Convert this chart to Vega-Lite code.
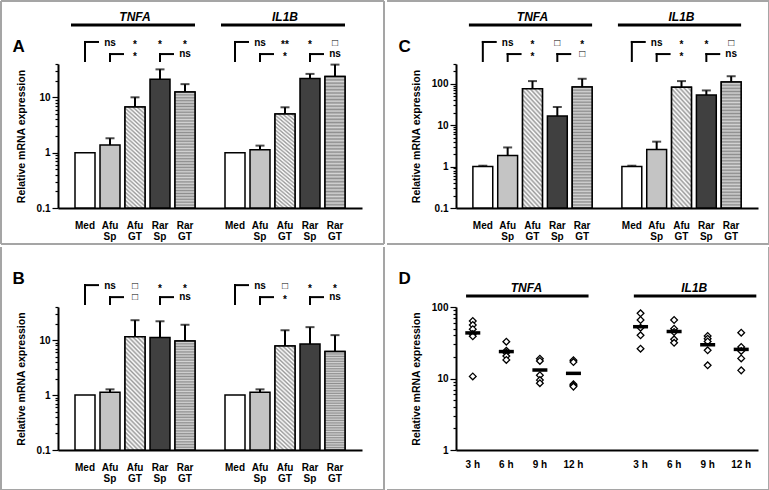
{
"$schema": "https://vega.github.io/schema/vega-lite/v6.json",
"background": "white",
"padding": 0,
"params": [
  {"name": "hatchFill", "value": {"gradient": "linear", "x1": 0, "y1": 1, "x2": 0.207, "y2": -0.15, "stops": [
      {"offset": 0, "color": "#9a9a9a"}, {"offset": 0.0167, "color": "#ffffff"},
      {"offset": 0.0333, "color": "#9a9a9a"}, {"offset": 0.05, "color": "#ffffff"},
      {"offset": 0.0667, "color": "#9a9a9a"}, {"offset": 0.0833, "color": "#ffffff"},
      {"offset": 0.1, "color": "#9a9a9a"}, {"offset": 0.1167, "color": "#ffffff"},
      {"offset": 0.1333, "color": "#9a9a9a"}, {"offset": 0.15, "color": "#ffffff"},
      {"offset": 0.1667, "color": "#9a9a9a"}, {"offset": 0.1833, "color": "#ffffff"},
      {"offset": 0.2, "color": "#9a9a9a"}, {"offset": 0.2167, "color": "#ffffff"},
      {"offset": 0.2333, "color": "#9a9a9a"}, {"offset": 0.25, "color": "#ffffff"},
      {"offset": 0.2667, "color": "#9a9a9a"}, {"offset": 0.2833, "color": "#ffffff"},
      {"offset": 0.3, "color": "#9a9a9a"}, {"offset": 0.3167, "color": "#ffffff"},
      {"offset": 0.3333, "color": "#9a9a9a"}, {"offset": 0.35, "color": "#ffffff"},
      {"offset": 0.3667, "color": "#9a9a9a"}, {"offset": 0.3833, "color": "#ffffff"},
      {"offset": 0.4, "color": "#9a9a9a"}, {"offset": 0.4167, "color": "#ffffff"},
      {"offset": 0.4333, "color": "#9a9a9a"}, {"offset": 0.45, "color": "#ffffff"},
      {"offset": 0.4667, "color": "#9a9a9a"}, {"offset": 0.4833, "color": "#ffffff"},
      {"offset": 0.5, "color": "#9a9a9a"}, {"offset": 0.5167, "color": "#ffffff"},
      {"offset": 0.5333, "color": "#9a9a9a"}, {"offset": 0.55, "color": "#ffffff"},
      {"offset": 0.5667, "color": "#9a9a9a"}, {"offset": 0.5833, "color": "#ffffff"},
      {"offset": 0.6, "color": "#9a9a9a"}, {"offset": 0.6167, "color": "#ffffff"},
      {"offset": 0.6333, "color": "#9a9a9a"}, {"offset": 0.65, "color": "#ffffff"},
      {"offset": 0.6667, "color": "#9a9a9a"}, {"offset": 0.6833, "color": "#ffffff"},
      {"offset": 0.7, "color": "#9a9a9a"}, {"offset": 0.7167, "color": "#ffffff"},
      {"offset": 0.7333, "color": "#9a9a9a"}, {"offset": 0.75, "color": "#ffffff"},
      {"offset": 0.7667, "color": "#9a9a9a"}, {"offset": 0.7833, "color": "#ffffff"},
      {"offset": 0.8, "color": "#9a9a9a"}, {"offset": 0.8167, "color": "#ffffff"},
      {"offset": 0.8333, "color": "#9a9a9a"}, {"offset": 0.85, "color": "#ffffff"},
      {"offset": 0.8667, "color": "#9a9a9a"}, {"offset": 0.8833, "color": "#ffffff"},
      {"offset": 0.9, "color": "#9a9a9a"}, {"offset": 0.9167, "color": "#ffffff"},
      {"offset": 0.9333, "color": "#9a9a9a"}, {"offset": 0.95, "color": "#ffffff"},
      {"offset": 0.9667, "color": "#9a9a9a"}, {"offset": 0.9833, "color": "#ffffff"},
      {"offset": 1, "color": "#9a9a9a"}]}},
  {"name": "stripeFill", "value": {"gradient": "linear", "x1": 0, "y1": 0, "x2": 0, "y2": 1, "stops": [
      {"offset": 0, "color": "#8e8e8e"}, {"offset": 0.0125, "color": "#d4d4d4"},
      {"offset": 0.025, "color": "#8e8e8e"}, {"offset": 0.0375, "color": "#d4d4d4"},
      {"offset": 0.05, "color": "#8e8e8e"}, {"offset": 0.0625, "color": "#d4d4d4"},
      {"offset": 0.075, "color": "#8e8e8e"}, {"offset": 0.0875, "color": "#d4d4d4"},
      {"offset": 0.1, "color": "#8e8e8e"}, {"offset": 0.1125, "color": "#d4d4d4"},
      {"offset": 0.125, "color": "#8e8e8e"}, {"offset": 0.1375, "color": "#d4d4d4"},
      {"offset": 0.15, "color": "#8e8e8e"}, {"offset": 0.1625, "color": "#d4d4d4"},
      {"offset": 0.175, "color": "#8e8e8e"}, {"offset": 0.1875, "color": "#d4d4d4"},
      {"offset": 0.2, "color": "#8e8e8e"}, {"offset": 0.2125, "color": "#d4d4d4"},
      {"offset": 0.225, "color": "#8e8e8e"}, {"offset": 0.2375, "color": "#d4d4d4"},
      {"offset": 0.25, "color": "#8e8e8e"}, {"offset": 0.2625, "color": "#d4d4d4"},
      {"offset": 0.275, "color": "#8e8e8e"}, {"offset": 0.2875, "color": "#d4d4d4"},
      {"offset": 0.3, "color": "#8e8e8e"}, {"offset": 0.3125, "color": "#d4d4d4"},
      {"offset": 0.325, "color": "#8e8e8e"}, {"offset": 0.3375, "color": "#d4d4d4"},
      {"offset": 0.35, "color": "#8e8e8e"}, {"offset": 0.3625, "color": "#d4d4d4"},
      {"offset": 0.375, "color": "#8e8e8e"}, {"offset": 0.3875, "color": "#d4d4d4"},
      {"offset": 0.4, "color": "#8e8e8e"}, {"offset": 0.4125, "color": "#d4d4d4"},
      {"offset": 0.425, "color": "#8e8e8e"}, {"offset": 0.4375, "color": "#d4d4d4"},
      {"offset": 0.45, "color": "#8e8e8e"}, {"offset": 0.4625, "color": "#d4d4d4"},
      {"offset": 0.475, "color": "#8e8e8e"}, {"offset": 0.4875, "color": "#d4d4d4"},
      {"offset": 0.5, "color": "#8e8e8e"}, {"offset": 0.5125, "color": "#d4d4d4"},
      {"offset": 0.525, "color": "#8e8e8e"}, {"offset": 0.5375, "color": "#d4d4d4"},
      {"offset": 0.55, "color": "#8e8e8e"}, {"offset": 0.5625, "color": "#d4d4d4"},
      {"offset": 0.575, "color": "#8e8e8e"}, {"offset": 0.5875, "color": "#d4d4d4"},
      {"offset": 0.6, "color": "#8e8e8e"}, {"offset": 0.6125, "color": "#d4d4d4"},
      {"offset": 0.625, "color": "#8e8e8e"}, {"offset": 0.6375, "color": "#d4d4d4"},
      {"offset": 0.65, "color": "#8e8e8e"}, {"offset": 0.6625, "color": "#d4d4d4"},
      {"offset": 0.675, "color": "#8e8e8e"}, {"offset": 0.6875, "color": "#d4d4d4"},
      {"offset": 0.7, "color": "#8e8e8e"}, {"offset": 0.7125, "color": "#d4d4d4"},
      {"offset": 0.725, "color": "#8e8e8e"}, {"offset": 0.7375, "color": "#d4d4d4"},
      {"offset": 0.75, "color": "#8e8e8e"}, {"offset": 0.7625, "color": "#d4d4d4"},
      {"offset": 0.775, "color": "#8e8e8e"}, {"offset": 0.7875, "color": "#d4d4d4"},
      {"offset": 0.8, "color": "#8e8e8e"}, {"offset": 0.8125, "color": "#d4d4d4"},
      {"offset": 0.825, "color": "#8e8e8e"}, {"offset": 0.8375, "color": "#d4d4d4"},
      {"offset": 0.85, "color": "#8e8e8e"}, {"offset": 0.8625, "color": "#d4d4d4"},
      {"offset": 0.875, "color": "#8e8e8e"}, {"offset": 0.8875, "color": "#d4d4d4"},
      {"offset": 0.9, "color": "#8e8e8e"}, {"offset": 0.9125, "color": "#d4d4d4"},
      {"offset": 0.925, "color": "#8e8e8e"}, {"offset": 0.9375, "color": "#d4d4d4"},
      {"offset": 0.95, "color": "#8e8e8e"}, {"offset": 0.9625, "color": "#d4d4d4"},
      {"offset": 0.975, "color": "#8e8e8e"}, {"offset": 0.9875, "color": "#d4d4d4"},
      {"offset": 1, "color": "#8e8e8e"}]}}
],
"config": {
  "font": "Liberation Sans",
  "view": {"stroke": null},
  "mark": {"color": "#000"},
  "axis": {"domainColor": "#000", "domainWidth": 2, "tickColor": "#000", "tickWidth": 1.2, "labelColor": "#000", "labelFont": "Liberation Sans", "labelFontSize": 10, "labelFontWeight": "bold", "titleColor": "#000", "titleFont": "Liberation Sans", "titleFontSize": 10.5, "titleFontWeight": "bold", "grid": false},
  "title": {"fontSize": 17, "fontWeight": "bold", "color": "#000", "font": "Liberation Sans"},
  "text": {"font": "Liberation Sans", "fontWeight": "bold", "fontSize": 10, "color": "#000"}
},
"datasets": {
  "barsA": [
    {"cond": "Med", "key": "TNFA|Med", "value": 1, "upper": null},
    {"cond": "Afu Sp", "key": "TNFA|Afu Sp", "value": 1.38, "upper": 1.82},
    {"cond": "Afu GT", "key": "TNFA|Afu GT", "value": 6.7, "upper": 10},
    {"cond": "Rar Sp", "key": "TNFA|Rar Sp", "value": 21.2, "upper": 32},
    {"cond": "Rar GT", "key": "TNFA|Rar GT", "value": 12.5, "upper": 17.3},
    {"cond": "Med", "key": "IL1B|Med", "value": 1, "upper": null},
    {"cond": "Afu Sp", "key": "IL1B|Afu Sp", "value": 1.13, "upper": 1.34},
    {"cond": "Afu GT", "key": "IL1B|Afu GT", "value": 5.0, "upper": 6.6},
    {"cond": "Rar Sp", "key": "IL1B|Rar Sp", "value": 21.8, "upper": 26.5},
    {"cond": "Rar GT", "key": "IL1B|Rar GT", "value": 23.7, "upper": 39}
  ],
  "barsB": [
    {"cond": "Med", "key": "TNFA|Med", "value": 1, "upper": null},
    {"cond": "Afu Sp", "key": "TNFA|Afu Sp", "value": 1.13, "upper": 1.27},
    {"cond": "Afu GT", "key": "TNFA|Afu GT", "value": 11.5, "upper": 23},
    {"cond": "Rar Sp", "key": "TNFA|Rar Sp", "value": 11.2, "upper": 22},
    {"cond": "Rar GT", "key": "TNFA|Rar GT", "value": 9.6, "upper": 19},
    {"cond": "Med", "key": "IL1B|Med", "value": 1, "upper": null},
    {"cond": "Afu Sp", "key": "IL1B|Afu Sp", "value": 1.13, "upper": 1.27},
    {"cond": "Afu GT", "key": "IL1B|Afu GT", "value": 7.8, "upper": 15.1},
    {"cond": "Rar Sp", "key": "IL1B|Rar Sp", "value": 8.5, "upper": 17.2},
    {"cond": "Rar GT", "key": "IL1B|Rar GT", "value": 6.2, "upper": 12.3}
  ],
  "barsC": [
    {"cond": "Med", "key": "TNFA|Med", "value": 1, "upper": 1.05},
    {"cond": "Afu Sp", "key": "TNFA|Afu Sp", "value": 1.84, "upper": 2.9},
    {"cond": "Afu GT", "key": "TNFA|Afu GT", "value": 76, "upper": 116},
    {"cond": "Rar Sp", "key": "TNFA|Rar Sp", "value": 16.7, "upper": 27.5},
    {"cond": "Rar GT", "key": "TNFA|Rar GT", "value": 83, "upper": 132},
    {"cond": "Med", "key": "IL1B|Med", "value": 1, "upper": 1.05},
    {"cond": "Afu Sp", "key": "IL1B|Afu Sp", "value": 2.6, "upper": 4.0},
    {"cond": "Afu GT", "key": "IL1B|Afu GT", "value": 82, "upper": 116},
    {"cond": "Rar Sp", "key": "IL1B|Rar Sp", "value": 53.5, "upper": 69},
    {"cond": "Rar GT", "key": "IL1B|Rar GT", "value": 110, "upper": 152}
  ],
  "textA": [
    {"key": "TNFA|Afu Sp", "tier": "r1", "label": "ns"},
    {"key": "TNFA|Afu GT", "tier": "r1", "label": "*"},
    {"key": "TNFA|Rar Sp", "tier": "r1", "label": "*"},
    {"key": "TNFA|Rar GT", "tier": "r1", "label": "*"},
    {"key": "TNFA|Afu GT", "tier": "r2", "label": "*"},
    {"key": "TNFA|Rar GT", "tier": "r2", "label": "ns"},
    {"key": "IL1B|Afu Sp", "tier": "r1", "label": "ns"},
    {"key": "IL1B|Afu GT", "tier": "r1", "label": "**"},
    {"key": "IL1B|Rar Sp", "tier": "r1", "label": "*"},
    {"key": "IL1B|Rar GT", "tier": "r1", "label": "□"},
    {"key": "IL1B|Afu GT", "tier": "r2", "label": "*"},
    {"key": "IL1B|Rar GT", "tier": "r2", "label": "ns"}
  ],
  "textB": [
    {"key": "TNFA|Afu Sp", "tier": "r1", "label": "ns"},
    {"key": "TNFA|Afu GT", "tier": "r1", "label": "□"},
    {"key": "TNFA|Rar Sp", "tier": "r1", "label": "*"},
    {"key": "TNFA|Rar GT", "tier": "r1", "label": "*"},
    {"key": "TNFA|Afu GT", "tier": "r2", "label": "□"},
    {"key": "TNFA|Rar GT", "tier": "r2", "label": "ns"},
    {"key": "IL1B|Afu Sp", "tier": "r1", "label": "ns"},
    {"key": "IL1B|Afu GT", "tier": "r1", "label": "□"},
    {"key": "IL1B|Rar Sp", "tier": "r1", "label": "*"},
    {"key": "IL1B|Rar GT", "tier": "r1", "label": "*"},
    {"key": "IL1B|Afu GT", "tier": "r2", "label": "*"},
    {"key": "IL1B|Rar GT", "tier": "r2", "label": "ns"}
  ],
  "textC": [
    {"key": "TNFA|Afu Sp", "tier": "r1", "label": "ns"},
    {"key": "TNFA|Afu GT", "tier": "r1", "label": "*"},
    {"key": "TNFA|Rar Sp", "tier": "r1", "label": "□"},
    {"key": "TNFA|Rar GT", "tier": "r1", "label": "*"},
    {"key": "TNFA|Afu GT", "tier": "r2", "label": "*"},
    {"key": "TNFA|Rar GT", "tier": "r2", "label": "□"},
    {"key": "IL1B|Afu Sp", "tier": "r1", "label": "ns"},
    {"key": "IL1B|Afu GT", "tier": "r1", "label": "*"},
    {"key": "IL1B|Rar Sp", "tier": "r1", "label": "*"},
    {"key": "IL1B|Rar GT", "tier": "r1", "label": "□"},
    {"key": "IL1B|Afu GT", "tier": "r2", "label": "*"},
    {"key": "IL1B|Rar GT", "tier": "r2", "label": "ns"}
  ],
  "brackets": [
    {"key": "TNFA|Med", "tier": "r1"},
    {"key": "TNFA|Afu Sp", "tier": "r2"},
    {"key": "TNFA|Rar Sp", "tier": "r2"},
    {"key": "IL1B|Med", "tier": "r1"},
    {"key": "IL1B|Afu Sp", "tier": "r2"},
    {"key": "IL1B|Rar Sp", "tier": "r2"}
  ],
  "headers": [
    {"label": "TNFA", "key": "TNFA|Med", "to": "TNFA|Rar GT", "mid": "TNFA|Afu GT"},
    {"label": "IL1B", "key": "IL1B|Med", "to": "IL1B|Rar GT", "mid": "IL1B|Afu GT"}
  ],
  "headersD": [
    {"label": "TNFA", "key": "TNFA|3 h", "to": "TNFA|12 h", "mid": "TNFA|6 h"},
    {"label": "IL1B", "key": "IL1B|3 h", "to": "IL1B|12 h", "mid": "IL1B|6 h"}
  ],
  "frameBar": [{"first": "TNFA|Med", "last": "IL1B|Rar GT"}],
  "frameD": [{"first": "TNFA|3 h", "last": "IL1B|12 h"}],
  "dotsD": [
    {"key": "TNFA|3 h", "value": 63.7}, {"key": "TNFA|3 h", "value": 56}, {"key": "TNFA|3 h", "value": 49}, {"key": "TNFA|3 h", "value": 42}, {"key": "TNFA|3 h", "value": 39}, {"key": "TNFA|3 h", "value": 10.7},
    {"key": "TNFA|6 h", "value": 32.7}, {"key": "TNFA|6 h", "value": 24.5}, {"key": "TNFA|6 h", "value": 23}, {"key": "TNFA|6 h", "value": 20.6}, {"key": "TNFA|6 h", "value": 18.2},
    {"key": "TNFA|9 h", "value": 18.9}, {"key": "TNFA|9 h", "value": 17.6}, {"key": "TNFA|9 h", "value": 11.1}, {"key": "TNFA|9 h", "value": 9.5}, {"key": "TNFA|9 h", "value": 8.6},
    {"key": "TNFA|12 h", "value": 18}, {"key": "TNFA|12 h", "value": 17}, {"key": "TNFA|12 h", "value": 8.3}, {"key": "TNFA|12 h", "value": 8}, {"key": "TNFA|12 h", "value": 7.7},
    {"key": "IL1B|3 h", "value": 81.6}, {"key": "IL1B|3 h", "value": 65.8}, {"key": "IL1B|3 h", "value": 51.3}, {"key": "IL1B|3 h", "value": 40.2}, {"key": "IL1B|3 h", "value": 26.1},
    {"key": "IL1B|6 h", "value": 65.8}, {"key": "IL1B|6 h", "value": 49.7}, {"key": "IL1B|6 h", "value": 44.7}, {"key": "IL1B|6 h", "value": 35.3}, {"key": "IL1B|6 h", "value": 31.6},
    {"key": "IL1B|9 h", "value": 39.3}, {"key": "IL1B|9 h", "value": 36}, {"key": "IL1B|9 h", "value": 33}, {"key": "IL1B|9 h", "value": 24.8}, {"key": "IL1B|9 h", "value": 15.3},
    {"key": "IL1B|12 h", "value": 43.7}, {"key": "IL1B|12 h", "value": 27.6}, {"key": "IL1B|12 h", "value": 24.3}, {"key": "IL1B|12 h", "value": 19.1}, {"key": "IL1B|12 h", "value": 13}
  ]
},
"columns": 2,
"spacing": {"row": 0, "column": 0},
"concat": [
{
 "width": 304, "height": 144,
 "title": {"text": "A", "orient": "left", "anchor": "end", "frame": "group", "angle": 0, "align": "right", "baseline": "middle", "offset": -37, "dy": -17},
 "resolve": {"scale": {"y": "independent"}},
 "layer": [
  {"data": {"name": "barsA"}, "layer": [
    {"mark": {"type": "bar", "stroke": "#000", "strokeWidth": 1.5},
     "encoding": {
      "x": {"field": "key", "type": "nominal", "title": null, "scale": {"domain": ["TNFA|Med","TNFA|Afu Sp","TNFA|Afu GT","TNFA|Rar Sp","TNFA|Rar GT","gap","IL1B|Med","IL1B|Afu Sp","IL1B|Afu GT","IL1B|Rar Sp","IL1B|Rar GT"], "paddingInner": 0.2, "paddingOuter": 0.68}, "axis": {"title": null, "labelExpr": "datum.value == 'gap' ? '' : split(split(datum.value, '|')[1], ' ')", "ticks": false, "tickSize": 0, "labelAngle": 0, "labelPadding": 12, "labelLineHeight": 11, "labelBaseline": "top"}},
      "y": {"field": "value", "type": "quantitative", "scale": {"type": "log", "domain": [0.1, 40], "nice": false}, "axis": {"title": "Relative mRNA expression", "values": [0.1,0.2,0.3,0.4,0.5,0.6,0.7,0.8,0.9,1,2,3,4,5,6,7,8,9,10,20,30,40], "labelExpr": "indexof([0.1,1,10,100,1000], datum.value) >= 0 ? datum.value + '' : ''", "tickSize": {"condition": {"test": "indexof([0.1,1,10,100,1000], datum.value) >= 0", "value": 6}, "value": 3}, "labelPadding": 2, "titlePadding": 10}},
      "y2": {"datum": 0.1},
      "fill": {"field": "cond", "type": "nominal", "scale": {"domain": ["Med","Afu Sp","Afu GT","Rar Sp","Rar GT"], "range": ["#ffffff","#c4c4c4","#d8d8d8","#404040","#b0b0b0"]}, "legend": null}}},
    {"transform": [{"filter": "datum.cond == 'Afu GT'"}], "mark": {"type": "bar", "fill": {"expr": "hatchFill"}, "stroke": "#000", "strokeWidth": 1.5},
     "encoding": {"x": {"field": "key", "type": "nominal", "title": null}, "y": {"field": "value", "type": "quantitative"}, "y2": {"datum": 0.1}}},
    {"transform": [{"filter": "datum.cond == 'Rar GT'"}], "mark": {"type": "bar", "fill": {"expr": "stripeFill"}, "stroke": "#000", "strokeWidth": 1.5},
     "encoding": {"x": {"field": "key", "type": "nominal", "title": null}, "y": {"field": "value", "type": "quantitative"}, "y2": {"datum": 0.1}}},
    {"transform": [{"filter": "isValid(datum.upper)"}], "mark": {"type": "rule", "strokeWidth": 2, "color": "#000"},
     "encoding": {"x": {"field": "key", "type": "nominal", "title": null}, "y": {"field": "value", "type": "quantitative"}, "y2": {"field": "upper"}}},
    {"transform": [{"filter": "isValid(datum.upper)"}], "mark": {"type": "tick", "thickness": 2, "size": 9, "color": "#000"},
     "encoding": {"x": {"field": "key", "type": "nominal", "title": null}, "y": {"field": "upper", "type": "quantitative"}}}
  ]},
  {"layer": [
    {"data": {"name": "frameBar"}, "mark": {"type": "rule", "strokeWidth": 2, "color": "#a5a5a5"},
     "encoding": {"x": {"field": "first", "type": "nominal", "bandPosition": -3.7, "title": null}, "x2": {"field": "last", "bandPosition": 2.95}, "y": {"datum": 143.75, "type": "quantitative", "scale": {"domain": [0, 100]}, "axis": null}}},
    {"data": {"name": "frameBar"}, "mark": {"type": "rule", "strokeWidth": 2, "color": "#a5a5a5"},
     "encoding": {"x": {"field": "first", "type": "nominal", "bandPosition": -3.7, "title": null}, "x2": {"field": "last", "bandPosition": 2.95}, "y": {"datum": -25, "type": "quantitative", "scale": {"domain": [0, 100]}, "axis": null}}},
    {"data": {"name": "frameBar"}, "mark": {"type": "rule", "strokeWidth": 2, "color": "#a5a5a5"},
     "encoding": {"x": {"field": "first", "type": "nominal", "bandPosition": -3.7, "title": null}, "y": {"datum": 143.75, "type": "quantitative", "scale": {"domain": [0, 100]}, "axis": null}, "y2": {"datum": -25}}},
    {"data": {"name": "frameBar"}, "mark": {"type": "rule", "strokeWidth": 2, "color": "#a5a5a5"},
     "encoding": {"x": {"field": "last", "type": "nominal", "bandPosition": 2.95, "title": null}, "y": {"datum": 143.75, "type": "quantitative", "scale": {"domain": [0, 100]}, "axis": null}, "y2": {"datum": -25}}},
    {"data": {"name": "headers"}, "mark": {"type": "rule", "strokeWidth": 3, "color": "#000"},
     "encoding": {"x": {"field": "key", "type": "nominal", "bandPosition": -0.2, "title": null}, "x2": {"field": "to", "bandPosition": 1}, "y": {"datum": 127.1, "type": "quantitative", "scale": {"domain": [0, 100]}, "axis": null}}},
    {"data": {"name": "headers"}, "mark": {"type": "text", "fontSize": 12, "fontStyle": "italic", "baseline": "middle", "color": "#000"},
     "encoding": {"x": {"field": "mid", "type": "nominal", "title": null}, "y": {"datum": 132.6, "type": "quantitative", "scale": {"domain": [0, 100]}, "axis": null}, "text": {"field": "label"}}},
    {"data": {"name": "brackets"}, "transform": [{"filter": "datum.tier == 'r1'"}], "mark": {"type": "rule", "strokeWidth": 2, "color": "#000", "strokeCap": "square"},
     "encoding": {"x": {"field": "key", "type": "nominal", "title": null}, "y": {"datum": 115.3, "type": "quantitative", "scale": {"domain": [0, 100]}, "axis": null}, "y2": {"datum": 102.1}}},
    {"data": {"name": "brackets"}, "transform": [{"filter": "datum.tier == 'r1'"}], "mark": {"type": "rule", "strokeWidth": 2, "color": "#000", "strokeCap": "square"},
     "encoding": {"x": {"field": "key", "type": "nominal", "bandPosition": 0.5, "title": null}, "x2": {"field": "key", "bandPosition": 1.15}, "y": {"datum": 115.3, "type": "quantitative", "scale": {"domain": [0, 100]}, "axis": null}}},
    {"data": {"name": "brackets"}, "transform": [{"filter": "datum.tier == 'r2'"}], "mark": {"type": "rule", "strokeWidth": 2, "color": "#000", "strokeCap": "square"},
     "encoding": {"x": {"field": "key", "type": "nominal", "title": null}, "y": {"datum": 106.9, "type": "quantitative", "scale": {"domain": [0, 100]}, "axis": null}, "y2": {"datum": 102.1}}},
    {"data": {"name": "brackets"}, "transform": [{"filter": "datum.tier == 'r2'"}], "mark": {"type": "rule", "strokeWidth": 2, "color": "#000", "strokeCap": "square"},
     "encoding": {"x": {"field": "key", "type": "nominal", "bandPosition": 0.5, "title": null}, "x2": {"field": "key", "bandPosition": 1.15}, "y": {"datum": 106.9, "type": "quantitative", "scale": {"domain": [0, 100]}, "axis": null}}},
    {"data": {"name": "textA"}, "transform": [{"filter": "datum.tier == 'r1' && indexof(datum.label, '*') < 0"}], "mark": {"type": "text", "baseline": "middle", "color": "#000"},
     "encoding": {"x": {"field": "key", "type": "nominal", "title": null}, "y": {"datum": 114.6, "type": "quantitative", "scale": {"domain": [0, 100]}, "axis": null}, "text": {"field": "label"}}},
    {"data": {"name": "textA"}, "transform": [{"filter": "datum.tier == 'r1' && indexof(datum.label, '*') >= 0"}], "mark": {"type": "text", "baseline": "middle", "dy": 2.5, "color": "#000"},
     "encoding": {"x": {"field": "key", "type": "nominal", "title": null}, "y": {"datum": 114.6, "type": "quantitative", "scale": {"domain": [0, 100]}, "axis": null}, "text": {"field": "label"}}},
    {"data": {"name": "textA"}, "transform": [{"filter": "datum.tier == 'r2' && indexof(datum.label, '*') < 0"}], "mark": {"type": "text", "baseline": "middle", "color": "#000"},
     "encoding": {"x": {"field": "key", "type": "nominal", "title": null}, "y": {"datum": 106.9, "type": "quantitative", "scale": {"domain": [0, 100]}, "axis": null}, "text": {"field": "label"}}},
    {"data": {"name": "textA"}, "transform": [{"filter": "datum.tier == 'r2' && indexof(datum.label, '*') >= 0"}], "mark": {"type": "text", "baseline": "middle", "dy": 2.5, "color": "#000"},
     "encoding": {"x": {"field": "key", "type": "nominal", "title": null}, "y": {"datum": 106.9, "type": "quantitative", "scale": {"domain": [0, 100]}, "axis": null}, "text": {"field": "label"}}}
  ]}
 ]
},
{
 "width": 302, "height": 144,
 "title": {"text": "C", "orient": "left", "anchor": "end", "frame": "group", "angle": 0, "align": "right", "baseline": "middle", "offset": -37, "dy": -17},
 "resolve": {"scale": {"y": "independent"}},
 "layer": [
  {"data": {"name": "barsC"}, "layer": [
    {"mark": {"type": "bar", "stroke": "#000", "strokeWidth": 1.5},
     "encoding": {
      "x": {"field": "key", "type": "nominal", "title": null, "scale": {"domain": ["TNFA|Med","TNFA|Afu Sp","TNFA|Afu GT","TNFA|Rar Sp","TNFA|Rar GT","gap","IL1B|Med","IL1B|Afu Sp","IL1B|Afu GT","IL1B|Rar Sp","IL1B|Rar GT"], "paddingInner": 0.2, "paddingOuter": 0.68}, "axis": {"title": null, "labelExpr": "datum.value == 'gap' ? '' : split(split(datum.value, '|')[1], ' ')", "ticks": false, "tickSize": 0, "labelAngle": 0, "labelPadding": 12, "labelLineHeight": 11, "labelBaseline": "top"}},
      "y": {"field": "value", "type": "quantitative", "scale": {"type": "log", "domain": [0.1, 300], "nice": false}, "axis": {"title": "Relative mRNA expression", "values": [0.1,0.2,0.3,0.4,0.5,0.6,0.7,0.8,0.9,1,2,3,4,5,6,7,8,9,10,20,30,40,50,60,70,80,90,100,200,300], "labelExpr": "indexof([0.1,1,10,100,1000], datum.value) >= 0 ? datum.value + '' : ''", "tickSize": {"condition": {"test": "indexof([0.1,1,10,100,1000], datum.value) >= 0", "value": 6}, "value": 3}, "labelPadding": 2, "titlePadding": 10}},
      "y2": {"datum": 0.1},
      "fill": {"field": "cond", "type": "nominal", "scale": {"domain": ["Med","Afu Sp","Afu GT","Rar Sp","Rar GT"], "range": ["#ffffff","#c4c4c4","#d8d8d8","#404040","#b0b0b0"]}, "legend": null}}},
    {"transform": [{"filter": "datum.cond == 'Afu GT'"}], "mark": {"type": "bar", "fill": {"expr": "hatchFill"}, "stroke": "#000", "strokeWidth": 1.5},
     "encoding": {"x": {"field": "key", "type": "nominal", "title": null}, "y": {"field": "value", "type": "quantitative"}, "y2": {"datum": 0.1}}},
    {"transform": [{"filter": "datum.cond == 'Rar GT'"}], "mark": {"type": "bar", "fill": {"expr": "stripeFill"}, "stroke": "#000", "strokeWidth": 1.5},
     "encoding": {"x": {"field": "key", "type": "nominal", "title": null}, "y": {"field": "value", "type": "quantitative"}, "y2": {"datum": 0.1}}},
    {"transform": [{"filter": "isValid(datum.upper)"}], "mark": {"type": "rule", "strokeWidth": 2, "color": "#000"},
     "encoding": {"x": {"field": "key", "type": "nominal", "title": null}, "y": {"field": "value", "type": "quantitative"}, "y2": {"field": "upper"}}},
    {"transform": [{"filter": "isValid(datum.upper)"}], "mark": {"type": "tick", "thickness": 2, "size": 9, "color": "#000"},
     "encoding": {"x": {"field": "key", "type": "nominal", "title": null}, "y": {"field": "upper", "type": "quantitative"}}}
  ]},
  {"layer": [
    {"data": {"name": "frameBar"}, "mark": {"type": "rule", "strokeWidth": 2, "color": "#a5a5a5"},
     "encoding": {"x": {"field": "first", "type": "nominal", "bandPosition": -4.323, "title": null}, "x2": {"field": "last", "bandPosition": 2.403}, "y": {"datum": 143.75, "type": "quantitative", "scale": {"domain": [0, 100]}, "axis": null}}},
    {"data": {"name": "frameBar"}, "mark": {"type": "rule", "strokeWidth": 2, "color": "#a5a5a5"},
     "encoding": {"x": {"field": "first", "type": "nominal", "bandPosition": -4.323, "title": null}, "x2": {"field": "last", "bandPosition": 2.403}, "y": {"datum": -25, "type": "quantitative", "scale": {"domain": [0, 100]}, "axis": null}}},
    {"data": {"name": "frameBar"}, "mark": {"type": "rule", "strokeWidth": 2, "color": "#a5a5a5"},
     "encoding": {"x": {"field": "last", "type": "nominal", "bandPosition": 2.403, "title": null}, "y": {"datum": 143.75, "type": "quantitative", "scale": {"domain": [0, 100]}, "axis": null}, "y2": {"datum": -25}}},
    {"data": {"name": "headers"}, "mark": {"type": "rule", "strokeWidth": 3, "color": "#000"},
     "encoding": {"x": {"field": "key", "type": "nominal", "bandPosition": -0.2, "title": null}, "x2": {"field": "to", "bandPosition": 1}, "y": {"datum": 127.1, "type": "quantitative", "scale": {"domain": [0, 100]}, "axis": null}}},
    {"data": {"name": "headers"}, "mark": {"type": "text", "fontSize": 12, "fontStyle": "italic", "baseline": "middle", "color": "#000"},
     "encoding": {"x": {"field": "mid", "type": "nominal", "title": null}, "y": {"datum": 132.6, "type": "quantitative", "scale": {"domain": [0, 100]}, "axis": null}, "text": {"field": "label"}}},
    {"data": {"name": "brackets"}, "transform": [{"filter": "datum.tier == 'r1'"}], "mark": {"type": "rule", "strokeWidth": 2, "color": "#000", "strokeCap": "square"},
     "encoding": {"x": {"field": "key", "type": "nominal", "title": null}, "y": {"datum": 115.3, "type": "quantitative", "scale": {"domain": [0, 100]}, "axis": null}, "y2": {"datum": 102.1}}},
    {"data": {"name": "brackets"}, "transform": [{"filter": "datum.tier == 'r1'"}], "mark": {"type": "rule", "strokeWidth": 2, "color": "#000", "strokeCap": "square"},
     "encoding": {"x": {"field": "key", "type": "nominal", "bandPosition": 0.5, "title": null}, "x2": {"field": "key", "bandPosition": 1.15}, "y": {"datum": 115.3, "type": "quantitative", "scale": {"domain": [0, 100]}, "axis": null}}},
    {"data": {"name": "brackets"}, "transform": [{"filter": "datum.tier == 'r2'"}], "mark": {"type": "rule", "strokeWidth": 2, "color": "#000", "strokeCap": "square"},
     "encoding": {"x": {"field": "key", "type": "nominal", "title": null}, "y": {"datum": 106.9, "type": "quantitative", "scale": {"domain": [0, 100]}, "axis": null}, "y2": {"datum": 102.1}}},
    {"data": {"name": "brackets"}, "transform": [{"filter": "datum.tier == 'r2'"}], "mark": {"type": "rule", "strokeWidth": 2, "color": "#000", "strokeCap": "square"},
     "encoding": {"x": {"field": "key", "type": "nominal", "bandPosition": 0.5, "title": null}, "x2": {"field": "key", "bandPosition": 1.15}, "y": {"datum": 106.9, "type": "quantitative", "scale": {"domain": [0, 100]}, "axis": null}}},
    {"data": {"name": "textC"}, "transform": [{"filter": "datum.tier == 'r1' && indexof(datum.label, '*') < 0"}], "mark": {"type": "text", "baseline": "middle", "color": "#000"},
     "encoding": {"x": {"field": "key", "type": "nominal", "title": null}, "y": {"datum": 114.6, "type": "quantitative", "scale": {"domain": [0, 100]}, "axis": null}, "text": {"field": "label"}}},
    {"data": {"name": "textC"}, "transform": [{"filter": "datum.tier == 'r1' && indexof(datum.label, '*') >= 0"}], "mark": {"type": "text", "baseline": "middle", "dy": 2.5, "color": "#000"},
     "encoding": {"x": {"field": "key", "type": "nominal", "title": null}, "y": {"datum": 114.6, "type": "quantitative", "scale": {"domain": [0, 100]}, "axis": null}, "text": {"field": "label"}}},
    {"data": {"name": "textC"}, "transform": [{"filter": "datum.tier == 'r2' && indexof(datum.label, '*') < 0"}], "mark": {"type": "text", "baseline": "middle", "color": "#000"},
     "encoding": {"x": {"field": "key", "type": "nominal", "title": null}, "y": {"datum": 106.9, "type": "quantitative", "scale": {"domain": [0, 100]}, "axis": null}, "text": {"field": "label"}}},
    {"data": {"name": "textC"}, "transform": [{"filter": "datum.tier == 'r2' && indexof(datum.label, '*') >= 0"}], "mark": {"type": "text", "baseline": "middle", "dy": 2.5, "color": "#000"},
     "encoding": {"x": {"field": "key", "type": "nominal", "title": null}, "y": {"datum": 106.9, "type": "quantitative", "scale": {"domain": [0, 100]}, "axis": null}, "text": {"field": "label"}}}
  ]}
 ]
},
{
 "width": 304, "height": 143,
 "title": {"text": "B", "orient": "left", "anchor": "end", "frame": "group", "angle": 0, "align": "right", "baseline": "middle", "offset": -37, "dy": -28},
 "resolve": {"scale": {"y": "independent"}},
 "layer": [
  {"data": {"name": "barsB"}, "layer": [
    {"mark": {"type": "bar", "stroke": "#000", "strokeWidth": 1.5},
     "encoding": {
      "x": {"field": "key", "type": "nominal", "title": null, "scale": {"domain": ["TNFA|Med","TNFA|Afu Sp","TNFA|Afu GT","TNFA|Rar Sp","TNFA|Rar GT","gap","IL1B|Med","IL1B|Afu Sp","IL1B|Afu GT","IL1B|Rar Sp","IL1B|Rar GT"], "paddingInner": 0.2, "paddingOuter": 0.68}, "axis": {"title": null, "labelExpr": "datum.value == 'gap' ? '' : split(split(datum.value, '|')[1], ' ')", "ticks": false, "tickSize": 0, "labelAngle": 0, "labelPadding": 12, "labelLineHeight": 11, "labelBaseline": "top"}},
      "y": {"field": "value", "type": "quantitative", "scale": {"type": "log", "domain": [0.1, 40], "nice": false}, "axis": {"title": "Relative mRNA expression", "values": [0.1,0.2,0.3,0.4,0.5,0.6,0.7,0.8,0.9,1,2,3,4,5,6,7,8,9,10,20,30,40], "labelExpr": "indexof([0.1,1,10,100,1000], datum.value) >= 0 ? datum.value + '' : ''", "tickSize": {"condition": {"test": "indexof([0.1,1,10,100,1000], datum.value) >= 0", "value": 6}, "value": 3}, "labelPadding": 2, "titlePadding": 10}},
      "y2": {"datum": 0.1},
      "fill": {"field": "cond", "type": "nominal", "scale": {"domain": ["Med","Afu Sp","Afu GT","Rar Sp","Rar GT"], "range": ["#ffffff","#c4c4c4","#d8d8d8","#404040","#b0b0b0"]}, "legend": null}}},
    {"transform": [{"filter": "datum.cond == 'Afu GT'"}], "mark": {"type": "bar", "fill": {"expr": "hatchFill"}, "stroke": "#000", "strokeWidth": 1.5},
     "encoding": {"x": {"field": "key", "type": "nominal", "title": null}, "y": {"field": "value", "type": "quantitative"}, "y2": {"datum": 0.1}}},
    {"transform": [{"filter": "datum.cond == 'Rar GT'"}], "mark": {"type": "bar", "fill": {"expr": "stripeFill"}, "stroke": "#000", "strokeWidth": 1.5},
     "encoding": {"x": {"field": "key", "type": "nominal", "title": null}, "y": {"field": "value", "type": "quantitative"}, "y2": {"datum": 0.1}}},
    {"transform": [{"filter": "isValid(datum.upper)"}], "mark": {"type": "rule", "strokeWidth": 2, "color": "#000"},
     "encoding": {"x": {"field": "key", "type": "nominal", "title": null}, "y": {"field": "value", "type": "quantitative"}, "y2": {"field": "upper"}}},
    {"transform": [{"filter": "isValid(datum.upper)"}], "mark": {"type": "tick", "thickness": 2, "size": 9, "color": "#000"},
     "encoding": {"x": {"field": "key", "type": "nominal", "title": null}, "y": {"field": "upper", "type": "quantitative"}}}
  ]},
  {"layer": [
    {"data": {"name": "frameBar"}, "mark": {"type": "rule", "strokeWidth": 2, "color": "#a5a5a5"},
     "encoding": {"x": {"field": "first", "type": "nominal", "bandPosition": -3.7, "title": null}, "x2": {"field": "last", "bandPosition": 2.95}, "y": {"datum": -27.97, "type": "quantitative", "scale": {"domain": [0, 100]}, "axis": null}}},
    {"data": {"name": "frameBar"}, "mark": {"type": "rule", "strokeWidth": 2, "color": "#a5a5a5"},
     "encoding": {"x": {"field": "first", "type": "nominal", "bandPosition": -3.7, "title": null}, "y": {"datum": 141.96, "type": "quantitative", "scale": {"domain": [0, 100]}, "axis": null}, "y2": {"datum": -27.97}}},
    {"data": {"name": "frameBar"}, "mark": {"type": "rule", "strokeWidth": 2, "color": "#a5a5a5"},
     "encoding": {"x": {"field": "last", "type": "nominal", "bandPosition": 2.95, "title": null}, "y": {"datum": 141.96, "type": "quantitative", "scale": {"domain": [0, 100]}, "axis": null}, "y2": {"datum": -27.97}}},
    {"data": {"name": "brackets"}, "transform": [{"filter": "datum.tier == 'r1'"}], "mark": {"type": "rule", "strokeWidth": 2, "color": "#000", "strokeCap": "square"},
     "encoding": {"x": {"field": "key", "type": "nominal", "title": null}, "y": {"datum": 115.3, "type": "quantitative", "scale": {"domain": [0, 100]}, "axis": null}, "y2": {"datum": 102.1}}},
    {"data": {"name": "brackets"}, "transform": [{"filter": "datum.tier == 'r1'"}], "mark": {"type": "rule", "strokeWidth": 2, "color": "#000", "strokeCap": "square"},
     "encoding": {"x": {"field": "key", "type": "nominal", "bandPosition": 0.5, "title": null}, "x2": {"field": "key", "bandPosition": 1.15}, "y": {"datum": 115.3, "type": "quantitative", "scale": {"domain": [0, 100]}, "axis": null}}},
    {"data": {"name": "brackets"}, "transform": [{"filter": "datum.tier == 'r2'"}], "mark": {"type": "rule", "strokeWidth": 2, "color": "#000", "strokeCap": "square"},
     "encoding": {"x": {"field": "key", "type": "nominal", "title": null}, "y": {"datum": 106.9, "type": "quantitative", "scale": {"domain": [0, 100]}, "axis": null}, "y2": {"datum": 102.1}}},
    {"data": {"name": "brackets"}, "transform": [{"filter": "datum.tier == 'r2'"}], "mark": {"type": "rule", "strokeWidth": 2, "color": "#000", "strokeCap": "square"},
     "encoding": {"x": {"field": "key", "type": "nominal", "bandPosition": 0.5, "title": null}, "x2": {"field": "key", "bandPosition": 1.15}, "y": {"datum": 106.9, "type": "quantitative", "scale": {"domain": [0, 100]}, "axis": null}}},
    {"data": {"name": "textB"}, "transform": [{"filter": "datum.tier == 'r1' && indexof(datum.label, '*') < 0"}], "mark": {"type": "text", "baseline": "middle", "color": "#000"},
     "encoding": {"x": {"field": "key", "type": "nominal", "title": null}, "y": {"datum": 114.6, "type": "quantitative", "scale": {"domain": [0, 100]}, "axis": null}, "text": {"field": "label"}}},
    {"data": {"name": "textB"}, "transform": [{"filter": "datum.tier == 'r1' && indexof(datum.label, '*') >= 0"}], "mark": {"type": "text", "baseline": "middle", "dy": 2.5, "color": "#000"},
     "encoding": {"x": {"field": "key", "type": "nominal", "title": null}, "y": {"datum": 114.6, "type": "quantitative", "scale": {"domain": [0, 100]}, "axis": null}, "text": {"field": "label"}}},
    {"data": {"name": "textB"}, "transform": [{"filter": "datum.tier == 'r2' && indexof(datum.label, '*') < 0"}], "mark": {"type": "text", "baseline": "middle", "color": "#000"},
     "encoding": {"x": {"field": "key", "type": "nominal", "title": null}, "y": {"datum": 106.9, "type": "quantitative", "scale": {"domain": [0, 100]}, "axis": null}, "text": {"field": "label"}}},
    {"data": {"name": "textB"}, "transform": [{"filter": "datum.tier == 'r2' && indexof(datum.label, '*') >= 0"}], "mark": {"type": "text", "baseline": "middle", "dy": 2.5, "color": "#000"},
     "encoding": {"x": {"field": "key", "type": "nominal", "title": null}, "y": {"datum": 106.9, "type": "quantitative", "scale": {"domain": [0, 100]}, "axis": null}, "text": {"field": "label"}}}
  ]}
 ]
},
{
 "width": 302, "height": 143,
 "title": {"text": "D", "orient": "left", "anchor": "end", "frame": "group", "angle": 0, "align": "right", "baseline": "middle", "offset": -37, "dy": -28},
 "resolve": {"scale": {"y": "independent"}},
 "layer": [
  {"data": {"name": "dotsD"}, "layer": [
    {"mark": {"type": "point", "shape": "diamond", "filled": true, "fill": "#ffffff", "stroke": "#000", "strokeWidth": 1.3, "size": 45, "opacity": 1},
     "encoding": {
      "x": {"field": "key", "type": "nominal", "title": null, "scale": {"domain": ["TNFA|3 h","TNFA|6 h","TNFA|9 h","TNFA|12 h","gap","IL1B|3 h","IL1B|6 h","IL1B|9 h","IL1B|12 h"], "paddingInner": 0, "paddingOuter": 0}, "axis": {"title": null, "labelExpr": "datum.value == 'gap' ? '' : split(datum.value, '|')[1]", "ticks": false, "tickSize": 0, "labelAngle": 0, "labelPadding": 9, "labelBaseline": "top"}},
      "y": {"field": "value", "type": "quantitative", "scale": {"type": "log", "domain": [1, 100], "nice": false}, "axis": {"title": "Relative mRNA expression", "values": [1,2,3,4,5,6,7,8,9,10,20,30,40,50,60,70,80,90,100], "labelExpr": "indexof([0.1,1,10,100,1000], datum.value) >= 0 ? datum.value + '' : ''", "tickSize": {"condition": {"test": "indexof([0.1,1,10,100,1000], datum.value) >= 0", "value": 6}, "value": 3}, "labelPadding": 2, "titlePadding": 10}}}},
    {"mark": {"type": "tick", "thickness": 3.5, "size": 15, "color": "#000"},
     "encoding": {"x": {"field": "key", "type": "nominal", "title": null}, "y": {"aggregate": "mean", "field": "value", "type": "quantitative"}}}
  ]},
  {"layer": [
    {"data": {"name": "frameD"}, "mark": {"type": "rule", "strokeWidth": 2, "color": "#a5a5a5"},
     "encoding": {"x": {"field": "first", "type": "nominal", "bandPosition": -2.056, "title": null}, "x2": {"field": "last", "bandPosition": 1.329}, "y": {"datum": -27.97, "type": "quantitative", "scale": {"domain": [0, 100]}, "axis": null}}},
    {"data": {"name": "frameD"}, "mark": {"type": "rule", "strokeWidth": 2, "color": "#a5a5a5"},
     "encoding": {"x": {"field": "last", "type": "nominal", "bandPosition": 1.329, "title": null}, "y": {"datum": 141.96, "type": "quantitative", "scale": {"domain": [0, 100]}, "axis": null}, "y2": {"datum": -27.97}}},
    {"data": {"name": "headersD"}, "mark": {"type": "rule", "strokeWidth": 3, "color": "#000"},
     "encoding": {"x": {"field": "key", "type": "nominal", "bandPosition": 0.3, "title": null}, "x2": {"field": "to", "bandPosition": 0.95}, "y": {"datum": 107.7, "type": "quantitative", "scale": {"domain": [0, 100]}, "axis": null}}},
    {"data": {"name": "headersD"}, "mark": {"type": "text", "fontSize": 12, "fontStyle": "italic", "baseline": "middle", "color": "#000"},
     "encoding": {"x": {"field": "mid", "type": "nominal", "bandPosition": 1.1, "title": null}, "y": {"datum": 113.3, "type": "quantitative", "scale": {"domain": [0, 100]}, "axis": null}, "text": {"field": "label"}}}
  ]}
 ]
}
]
}
